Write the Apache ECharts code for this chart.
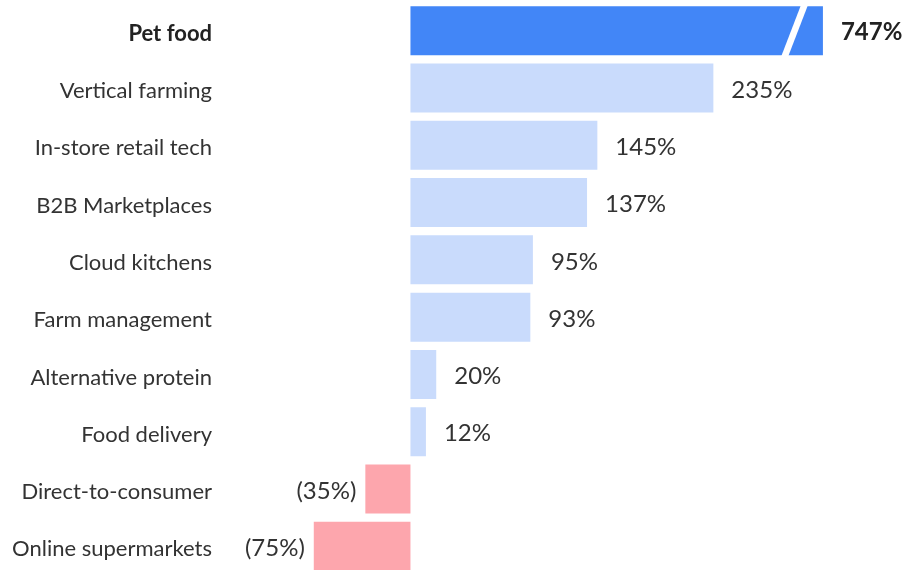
<!DOCTYPE html>
<html>
<head>
<meta charset="utf-8">
<script src="https://cdn.jsdelivr.net/npm/echarts@6/dist/echarts.min.js"></script>
<style>
  html, body { margin: 0; padding: 0; background: #fff; }
  #chart { width: 908px; height: 570px; }
</style>
</head>
<body>
<div id="chart"></div>
<script>
var categories = ['Pet food', 'Vertical farming', 'In-store retail tech', 'B2B Marketplaces',
  'Cloud kitchens', 'Farm management', 'Alternative protein', 'Food delivery',
  'Direct-to-consumer', 'Online supermarkets'];
var growth = [747, 235, 145, 137, 95, 93, 20, 12, -35, -75];
var highlight = 'Pet food';
// bars longer than this are drawn cut, with a break mark
var axisCap = 320;
var breakAt = 298;

var BLUE = '#4286f7';
var LIGHT = '#c9dbfc';
var PINK = '#fda6ad';
var FONT = 'Lato';

function pctText(v) {
  return v < 0 ? '(' + Math.abs(v) + '%)' : v + '%';
}

var barData = growth.map(function (v, i) {
  var isHi = categories[i] === highlight;
  return {
    value: Math.min(v, axisCap),
    real: v,
    itemStyle: { color: isHi ? BLUE : (v < 0 ? PINK : LIGHT) },
    label: {
      position: v < 0 ? 'left' : 'right',
      distance: v < 0 ? 9 : 18,
      fontWeight: isHi ? 'bold' : 'normal',
      color: isHi ? '#222' : '#333'
    }
  };
});

var chart = echarts.init(document.getElementById('chart'));
chart.setOption({
  animation: false,
  grid: { left: 230, right: 0, top: 2, height: 573, outerBoundsMode: 'none', containLabel: false },
  xAxis: {
    type: 'value',
    min: -140,
    max: 386,
    show: false,
    splitLine: { show: false }
  },
  yAxis: {
    type: 'category',
    data: categories,
    inverse: true,
    axisLine: { show: false, onZero: false },
    axisTick: { show: false },
    axisLabel: {
      margin: 18,
      padding: [6, 0, 0, 0],
      fontFamily: FONT,
      fontSize: 22,
      color: '#333',
      formatter: function (v) {
        return v === highlight ? '{b|' + v + '}' : v;
      },
      rich: {
        b: { fontFamily: FONT, fontSize: 22, fontWeight: 'bold', color: '#222' }
      }
    }
  },
  series: [
    {
      type: 'bar',
      data: barData,
      barWidth: 49,
      label: {
        show: true,
        fontFamily: FONT,
        fontSize: 24,
        offset: [0, 2],
        formatter: function (p) { return pctText(p.data.real); }
      }
    },
    {
      type: 'custom',
      silent: true,
      z: 5,
      data: growth.map(function (v, i) { return v > axisCap ? [breakAt, i] : null; })
        .filter(function (d) { return d; }),
      renderItem: function (params, api) {
        var c = api.coord([api.value(0), api.value(1)]);
        var h = 26, slant = 10, w = 7;
        return {
          type: 'polygon',
          shape: {
            points: [
              [c[0] + slant - w / 2, c[1] - h],
              [c[0] + slant + w / 2, c[1] - h],
              [c[0] - slant + w / 2, c[1] + h],
              [c[0] - slant - w / 2, c[1] + h]
            ]
          },
          style: { fill: '#fff' }
        };
      }
    }
  ]
});
</script>
</body>
</html>
